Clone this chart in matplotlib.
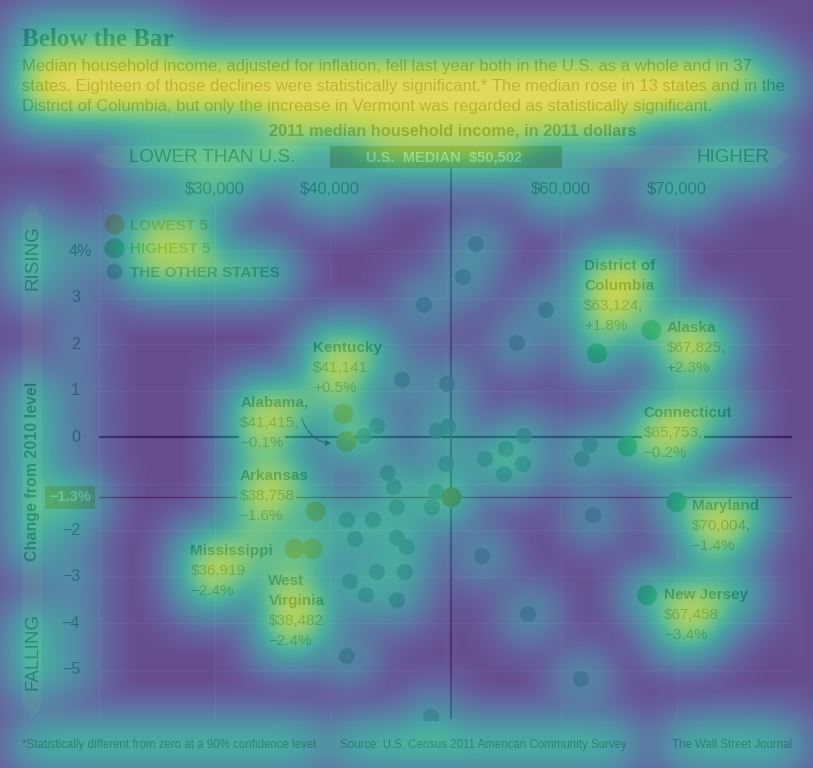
import numpy as np
import matplotlib
matplotlib.use('Agg')
import matplotlib.pyplot as plt
from matplotlib.patches import Polygon, Rectangle
from matplotlib.lines import Line2D

W, H = 813, 768
plt.rcParams['font.family'] = ['Liberation Sans', 'DejaVu Sans']

# ---------------- data ----------------
US_MEDIAN_INCOME = 50502
US_CHANGE = -1.3

other_income = [52640, 51520, 48140, 58700, 56190, 46230, 50130, 44070, 42940, 49260,
                50220, 56800, 62510, 61820, 53420, 55240, 56710, 55060, 50040, 45020,
                45540, 49180, 48830, 45800, 41470, 43720, 62770, 42160, 45800, 46670,
                53160, 41730, 44070, 46490, 43120, 45800, 57140, 41470, 61730, 48750]
other_change = [4.15, 3.44, 2.84, 2.73, 2.02, 1.23, 1.14, 0.24, 0.02, 0.13,
                0.22, 0.02, -0.17, -0.47, -0.47, -0.26, -0.58, -0.80, -0.58, -0.77,
                -1.08, -1.18, -1.51, -1.51, -1.78, -1.78, -1.68, -2.19, -2.17, -2.37,
                -2.56, -3.10, -2.90, -2.90, -3.40, -3.51, -3.81, -4.71, -5.20, -6.02]

low_names = [["Kentucky"], ["Alabama,"], ["Arkansas"], ["Mississippi"], ["West", "Virginia"]]
low_income = [41141, 41415, 38758, 36919, 38482]
low_change = [0.5, -0.1, -1.6, -2.4, -2.4]
low_comma = [False, True, False, False, False]

high_names = [["District of", "Columbia"], ["Alaska"], ["Connecticut"], ["Maryland"], ["New Jersey"]]
high_income = [63124, 67825, 65753, 70004, 67458]
high_change = [1.8, 2.3, -0.2, -1.4, -3.4]
high_comma = [True, True, True, True, False]

x_ticks = [30000, 40000, 60000, 70000]
x_tick_labels = ['$30,000', '$40,000', '$60,000', '$70,000']
y_ticks = [4, 3, 2, 1, 0, -2, -3, -4, -5]
y_tick_labels = ['4%', '3', '2', '1', '0', '\u22122', '\u22123', '\u22124', '\u22125']
legend_labels = ['LOWEST 5', 'HIGHEST 5', 'THE OTHER STATES']

title = "Below the Bar"
body = ["Median household income, adjusted for inflation, fell last year both in the U.S. as a whole and in 37",
        "states. Eighteen of those declines were statistically significant.* The median rose in 13 states and in the",
        "District of Columbia, but only the increase in Vermont was regarded as statistically significant."]
subtitle = "2011 median household income, in 2011 dollars"
footer = ["*Statistically different from zero at a 90% confidence level",
          "Source: U.S. Census 2011 American Community Survey",
          "The Wall Street Journal"]

# ---------------- style ----------------
BG = '#a9bdd6'
PLOT_BG = '#a5b9d3'
GRID_C = '#b9cbe0'
LOW_C = '#a48b45'
HIGH_C = '#3f9a6a'
OTHER_C = '#5f7f96'
MED_C = '#8e6f35'
BANNER = '#bcd2d2'

fig = plt.figure(figsize=(W / 100, H / 100), dpi=100)
fig.patch.set_facecolor(BG)


def fx(px):
    return px / W


def fy(py):
    return 1 - py / H


heat_items = []


def ftext(px, py, s, w=1.0, **kw):
    t = fig.text(fx(px), fy(py), s, **kw)
    heat_items.append((t, w))
    return t


# title and body
ftext(22, 40, title, w=0.5, family=['Liberation Serif', 'DejaVu Serif'], fontweight='bold',
      fontsize=18, color='#34505a', va='center')
for i, line in enumerate(body):
    ftext(22, 67 + i * 19.5, line, w=1.0, fontsize=12.0, color='#3a4a50', va='center')
ftext(453, 131, subtitle, w=1.0, fontsize=11.8, fontweight='bold', color='#3a4a50',
      ha='center', va='center')

# header banner arrow
banner = Polygon([(fx(93), fy(157)), (fx(108), fy(146)), (fx(775), fy(146)), (fx(790), fy(157)),
                  (fx(775), fy(168)), (fx(108), fy(168))], closed=True,
                 transform=fig.transFigure, facecolor=BANNER, edgecolor='none', zorder=1)
fig.patches.append(banner)
fig.patches.append(Rectangle((fx(330), fy(168)), fx(562) - fx(330), (168 - 146) / H,
                             transform=fig.transFigure, facecolor='#8f8250', edgecolor='none', zorder=2))
ftext(212, 157, 'LOWER THAN U.S.', w=0.8, fontsize=13.5, color='#3d5a55', ha='center', va='center', zorder=3)
ftext(733, 157, 'HIGHER', w=0.7, fontsize=13.5, color='#3d5a55', ha='center', va='center', zorder=3)
ftext(444, 157, 'U.S.  MEDIAN  $' + f'{US_MEDIAN_INCOME:,}', w=1.0, fontsize=10.5, fontweight='bold',
      color='#f1f1e6', ha='center', va='center', zorder=3)

# vertical arrow on left
varrow = Polygon([(fx(32), fy(203)), (fx(42), fy(215)), (fx(42), fy(706)), (fx(32), fy(718)),
                  (fx(22), fy(706)), (fx(22), fy(215))], closed=True,
                 transform=fig.transFigure, facecolor=BANNER, edgecolor='none', zorder=1)
fig.patches.append(varrow)
ftext(33, 258, 'RISING', w=0.7, fontsize=13.5, color='#3d5a55', rotation=90, ha='center', va='center')
ftext(33, 471, 'Change from 2010 level', w=0.75, fontsize=11.5, fontweight='bold', color='#3d5a55',
      rotation=90, ha='center', va='center')
ftext(33, 652, 'FALLING', w=0.7, fontsize=13.5, color='#3d5a55', rotation=90, ha='center', va='center')

# footer
ftext(22, 745, footer[0], w=0.9, fontsize=8.3, color='#3f5058', va='center')
ftext(340, 745, footer[1], w=0.9, fontsize=8.3, color='#3f5058', va='center')
ftext(792, 745, footer[2], w=0.9, fontsize=8.3, color='#3f5058', va='center', ha='right')

# ---------------- axes ----------------
ax = fig.add_axes([fx(99), fy(720.7), fx(792) - fx(99), (720.7 - 204.5) / H])
ax.set_facecolor(PLOT_BG)
ax.set_xlim(20000, 80000)
ax.set_ylim(-6.1, 5.0)
for sp in ax.spines.values():
    sp.set_visible(False)
ax.set_xticks([20000] + x_ticks + [50000])
ax.set_yticks(list(range(-5, 5)))
ax.tick_params(length=0, labelbottom=False, labelleft=False)
ax.grid(color=GRID_C, lw=1.0, zorder=0)
ax.set_axisbelow(True)

# x tick labels (top)
for v, lab in zip(x_ticks, x_tick_labels):
    t = ax.text(v, 1.030, lab, transform=ax.get_xaxis_transform(), ha='center', va='center',
                fontsize=12, color='#34505e', clip_on=False)
    heat_items.append((t, 0.75))
# y tick labels
for v, lab in zip(y_ticks, y_tick_labels):
    xo = -0.0101 if lab.endswith('%') else -0.0274
    t = ax.text(xo, v, lab, transform=ax.get_yaxis_transform(), ha='right', va='center',
                fontsize=11.5, color='#34505e', clip_on=False)
    heat_items.append((t, 0.7))

# reference lines
ax.axhline(0, color='#1e2a48', lw=1.6, zorder=1)
ax.axhline(US_CHANGE, color='#6e3550', lw=1.0, zorder=1)
ax.plot([US_MEDIAN_INCOME, US_MEDIAN_INCOME], [-6.04, 6.26], color='#48565e', lw=1.3,
        clip_on=False, zorder=1)
t = ax.text(-0.042, US_CHANGE, '\u22121.3%', transform=ax.get_yaxis_transform(), ha='center',
            va='center', fontsize=10.5, fontweight='bold', color='#f4f0e0', clip_on=False,
            bbox=dict(boxstyle='square,pad=0.3', facecolor='#9a8a52', edgecolor='none'))
heat_items.append((t, 1.0))

# points
ax.scatter(other_income, other_change, s=135, color=OTHER_C, edgecolor='none', alpha=0.8, zorder=3)
ax.scatter(high_income, high_change, s=210, color=HIGH_C, edgecolor='none', zorder=4)
ax.scatter(low_income, low_change, s=210, color=LOW_C, edgecolor='none', zorder=4)
ax.scatter([US_MEDIAN_INCOME], [US_CHANGE], s=210, color=MED_C, edgecolor='none', zorder=5)

# labels
label_offsets_low = [(-30, 66), (-106, 39), (-76, 35), (-104, -2), (-44, -32)]
label_offsets_high = [(-13, 87), (15, 2), (16, 33), (15, -4), (17, 0)]


def label(x, y, names, inc, chg, comma, off, name_color, num_color):
    lines = [(n, True) for n in names]
    lines.append(('$' + f'{inc:,}' + (',' if comma else ''), False))
    lines.append((('+' if chg > 0 else '\u2212') + f'{abs(chg):.1f}%', False))
    for i, (s, bold) in enumerate(lines):
        t = ax.annotate(s, xy=(x, y), xytext=(off[0], off[1] - 20 * i), textcoords='offset pixels',
                        ha='left', va='center', fontsize=11, fontweight='bold' if bold else 'normal',
                        color=name_color if bold else num_color, zorder=6,
                        bbox=dict(boxstyle='square,pad=0.1', facecolor=PLOT_BG, edgecolor='none'))
        heat_items.append((t, 1.0))


for nm, inc, chg, cm, off in zip(low_names, low_income, low_change, low_comma, label_offsets_low):
    label(inc, chg, nm, inc, chg, cm, off, '#2a4e58', '#4a5a48')
for nm, inc, chg, cm, off in zip(high_names, high_income, high_change, high_comma, label_offsets_high):
    label(inc, chg, nm, inc, chg, cm, off, '#2a4e58', '#4a5a48')

# Alabama arrow
ax.annotate('', xy=(low_income[1], low_change[1]), xytext=(-45, 24), textcoords='offset pixels',
            arrowprops=dict(arrowstyle='-|>', connectionstyle='arc3,rad=0.45', color='#333333',
                            lw=0.8, shrinkA=0, shrinkB=11, mutation_scale=8), zorder=6)

# legend
handles = [Line2D([], [], ls='none', marker='o', ms=14.5, color=LOW_C, mec='none'),
           Line2D([], [], ls='none', marker='o', ms=14.5, color=HIGH_C, mec='none'),
           Line2D([], [], ls='none', marker='o', ms=11.5, color=OTHER_C, mec='none')]
leg = ax.legend(handles, legend_labels, loc='upper left', bbox_to_anchor=(-0.012, 0.993), frameon=False,
                prop=dict(size=11, weight='bold'), labelspacing=0.62, handletextpad=0.3,
                borderaxespad=0.3, handlelength=1.6)
for txt, c in zip(leg.get_texts(), ['#8a7a40', '#3c8a60', '#3d5a65']):
    txt.set_color(c)
    heat_items.append((txt, 1.0))

# ---------------- attention heat overlay ----------------
fig.canvas.draw()
renderer = fig.canvas.get_renderer()
mask = np.zeros((H, W))
for t, w in heat_items:
    bb = t.get_window_extent(renderer)
    x0, x1 = int(max(bb.x0, 0)), int(min(bb.x1, W))
    y0, y1 = int(max(H - bb.y1, 0)), int(min(H - bb.y0, H))
    if x1 > x0 and y1 > y0:
        mask[y0:y1, x0:x1] += w
yy, xx = np.mgrid[0:H, 0:W]
for xs, ys, w in [(other_income, other_change, 0.55), (high_income, high_change, 0.9),
                  (low_income, low_change, 1.0), ([US_MEDIAN_INCOME], [US_CHANGE], 1.0)]:
    pts = ax.transData.transform(np.column_stack([xs, ys]))
    for px, py in pts:
        r2 = (xx - px) ** 2 + (yy - (H - py)) ** 2
        mask[r2 < 110] += w
mask = np.clip(mask, 0, 1.2)


def gblur(a, s):
    r = int(3 * s)
    k = np.exp(-0.5 * (np.arange(-r, r + 1) / s) ** 2)
    k /= k.sum()
    a = np.apply_along_axis(lambda v: np.convolve(v, k, mode='same'), 0, a)
    a = np.apply_along_axis(lambda v: np.convolve(v, k, mode='same'), 1, a)
    return a


heat = gblur(mask, 19)
heat = heat / np.percentile(heat, 99.0)
heat = np.clip(heat, 0, 1) ** 0.55

ov = fig.add_axes([0, 0, 1, 1], zorder=20)
ov.imshow(heat, cmap='viridis', vmin=-0.08, vmax=1.0, alpha=0.68, aspect='auto',
          interpolation='bilinear')
ov.axis('off')
ov.patch.set_alpha(0)

fig.savefig('out.png', dpi=100, facecolor=fig.get_facecolor())
